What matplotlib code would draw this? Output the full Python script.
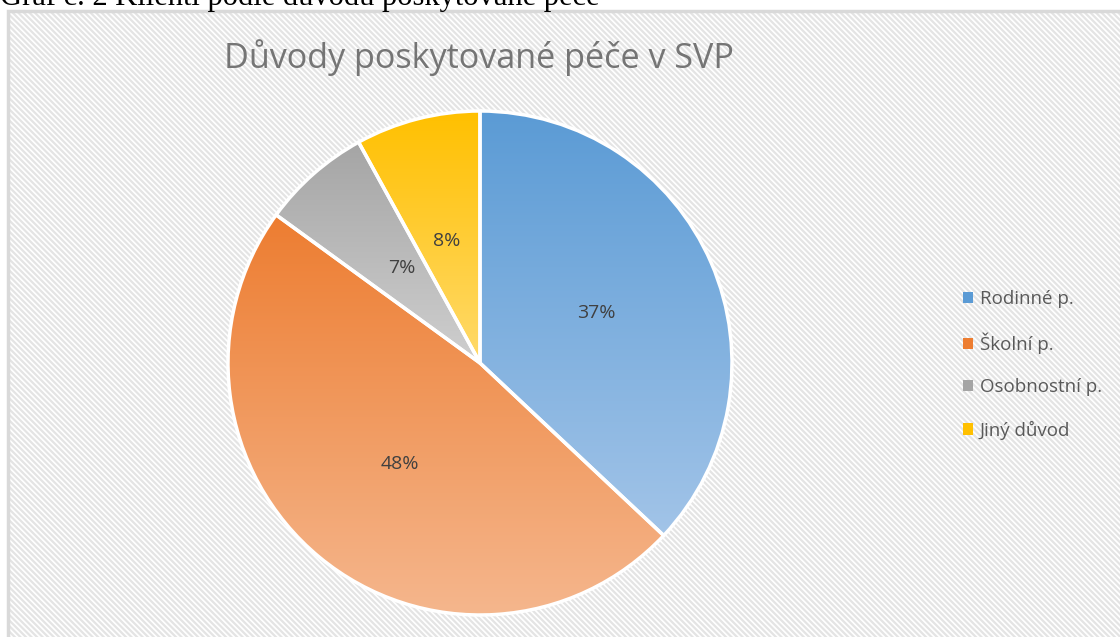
import numpy as np
import matplotlib.pyplot as plt
from matplotlib.patches import Rectangle, Patch
from matplotlib.colors import to_rgb

# data
categories = ["Rodinné p.", "Školní p.", "Osobnostní p.", "Jiný důvod"]
shares = [37, 48, 7, 8]
labels = ["37%", "48%", "7%", "8%"]
top_colors = ["#5B9BD5", "#ED7D31", "#A5A5A5", "#FFC000"]
bottom_colors = ["#A2C4E8", "#F5B78E", "#CFCFCF", "#FFDA6B"]
label_pos = [(596, 313), (400, 464), (402, 268), (447, 241)]

W, H = 1120, 637
plt.rcParams['hatch.linewidth'] = 1.6

fig = plt.figure(figsize=(W / 100, H / 100), dpi=100)
ax = fig.add_axes([0, 0, 1, 1])

# chart area with diagonal pattern
ax.add_patch(Rectangle((8, -20), W + 20, H - 11 + 20, facecolor='white',
                       edgecolor='#E4E4E4', hatch='\\\\\\\\\\\\', linewidth=0, zorder=0))
ax.add_patch(Rectangle((8, -20), W + 20, H - 11 + 20, facecolor='none',
                       edgecolor='#D9D9D9', linewidth=2.5, zorder=1))

# caption above chart (cut off at top, as in the source)
fig.text(0, (H - 5) / H, "Graf č. 2 Klienti podle důvodu poskytované péče",
         fontsize=22, family='Liberation Serif', va='baseline', ha='left', color='black')

cx, cy, r = 480, H - 363, 252
wedges, _ = ax.pie(shares, colors=top_colors, startangle=90, counterclock=False,
                   center=(cx, cy), radius=r, frame=True,
                   wedgeprops=dict(linewidth=0))
# white separators on top of the gradients
ax.pie(shares, colors=['none'] * 4, startangle=90, counterclock=False,
       center=(cx, cy), radius=r, frame=True,
       wedgeprops=dict(linewidth=2.5, edgecolor='white', zorder=3))

for w, c0, c1 in zip(wedges, top_colors, bottom_colors):
    verts = w.get_path().vertices
    ymin, ymax = verts[:, 1].min(), verts[:, 1].max()
    xmin, xmax = verts[:, 0].min(), verts[:, 0].max()
    t = np.linspace(0, 1, 256)[:, None]
    a, b = np.array(to_rgb(c0)), np.array(to_rgb(c1))
    grad = (a * (1 - t) + b * t)[:, None, :]
    im = ax.imshow(grad, extent=(xmin, xmax, ymin, ymax), origin='upper',
                   aspect='auto', zorder=2)
    im.set_clip_path(w)

ax.set_xlim(0, W)
ax.set_ylim(0, H)
ax.set_aspect('equal')
ax.axis('off')

for lab, (x, y) in zip(labels, label_pos):
    ax.text(x, H - y, lab, ha='center', va='center', fontsize=14,
            color='#404040', family='Open Sans', zorder=4)

ax.text(479, H - 58, "Důvody poskytované péče v SVP", ha='center', va='center',
        fontsize=24.6, color='#757575', family='Open Sans', zorder=4)

handles = [Patch(facecolor=c, edgecolor='none') for c in top_colors]
leg = ax.legend(handles, categories, loc='upper left', bbox_to_anchor=(963 / W, (H - 290) / H),
                frameon=False, fontsize=13.5, handlelength=0.55, handleheight=0.55,
                handletextpad=0.35, labelspacing=1.3, borderaxespad=0, borderpad=0)
for t in leg.get_texts():
    t.set_color('#595959')
    t.set_family('Open Sans')

fig.savefig('out.png', dpi=100)
